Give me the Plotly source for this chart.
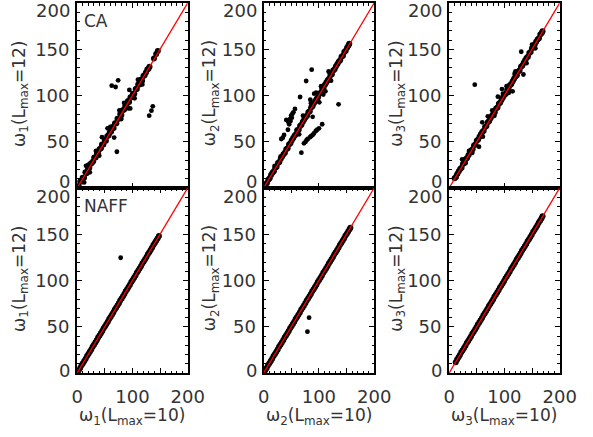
import plotly.graph_objects as go

# Frequencies (L_max=10, L_max=12) for the three components, CA and NAFF methods.
# Each entry is an (omega at L_max=10, omega at L_max=12) pair.
# *_BAND: the dense run of orbits lying on the 1:1 relation; *_SCATTER: the rest.

CA_W1_BAND = [
    (1, 2), (3, 1.5), (5.5, 7), (8, 7), (10, 11), (12.5, 11), (15, 17), (17, 16), (19.5, 20), (22, 22),
    (24, 26), (26.5, 27), (29, 29), (31, 33), (33.5, 33), (36, 37), (38, 37), (40.5, 42), (43, 43), (45, 47),
    (47.5, 47), (50, 52), (52, 51), (54.5, 56), (57, 57), (59, 60), (61.5, 61), (64, 66), (66, 65), (68.5, 70),
    (71, 70), (73, 75), (75.5, 75), (78, 80), (80, 79), (82.5, 84), (85, 85), (87, 88), (89.5, 88), (92, 94),
    (94, 93), (96.5, 98), (99, 98), (101, 102), (103.5, 102), (106, 107), (108, 107), (110.5, 112), (113, 112),
    (115, 117), (117.5, 116), (120, 121), (122, 122), (124.5, 125), (127, 128), (129, 129), (131, 131),
    (139, 140), (143, 145), (146, 148),
]
CA_W1_SCATTER = [
    (12.7, 6), (16, 24), (23, 17), (20, 25), (34, 40), (40, 35), (45, 55), (55, 64.5), (60, 66), (67, 54.5),
    (76.5, 84), (80, 74.5), (85, 92), (92.7, 86), (94.5, 106), (96, 86), (104, 97), (110, 117), (118, 112),
    (62.6, 110.6), (69.6, 109.2), (74.2, 116.4), (71.9, 39.2), (136.9, 88.3), (134.4, 83.6), (130.4, 78.2),
]

CA_W2_BAND = [
    (1, 1), (3.5, 4), (6, 5.5), (8.5, 9), (11, 10.5), (13.5, 14), (16, 16.5), (18.5, 18), (21, 22), (23.5, 23),
    (26, 27), (28.5, 28), (31, 31.5), (33.5, 34), (36, 36.5), (38.5, 38), (41, 42), (43.5, 43), (46, 47),
    (48.5, 48.5), (51, 51.5), (53.5, 54), (56, 56.5), (58.5, 58), (61, 62), (63.5, 63), (66, 67), (68.5, 68.5),
    (71, 71.5), (73.5, 74), (76, 76.5), (78.5, 78), (81, 82), (83.5, 83), (86, 87), (88.5, 88.5), (91, 91.5),
    (93.5, 94), (96, 96.5), (98.5, 98), (101, 102), (103.5, 103), (106, 107), (108.5, 108.5), (111, 111.5),
    (113.5, 114), (116, 116.5), (118.5, 118), (121, 122), (123.5, 123), (126, 127), (128.5, 128.5),
    (131, 131.5), (133.5, 134), (136, 136.5), (138.5, 138), (141, 142), (143.5, 143), (146, 147),
    (148.5, 148.5), (151, 151.5), (153.5, 154), (155, 156),
]
CA_W2_SCATTER = [
    (30.6, 33.8), (91.5, 102), (117.6, 126), (111.8, 104.5), (71.3, 78.2), (64.3, 58), (88.7, 77),
    (100.8, 92.6), (84.5, 95.5), (85.7, 91.6), (95, 103), (104, 110), (108, 101), (120, 124), (122, 116),
    (60, 63), (20, 24),
    (32, 53), (34.8, 54.4), (37, 57.3), (41.1, 73.5), (45.2, 71), (48.1, 74.6), (49.8, 78.2), (52.2, 80.3),
    (53.9, 81.8), (46.3, 68.9), (48.7, 72.4), (51, 76), (56.7, 85.4), (44, 63), (66, 98.4),
    (73, 48.3), (76, 50), (78, 52), (80, 53), (84, 55), (86, 56), (88.7, 57.3), (91, 59), (94.4, 61.6),
    (97, 63), (100.2, 64.5), (106, 68.9),
    (87, 127.9), (77, 115.7), (68.3, 38.2), (135.6, 90.5),
]

CA_W3_BAND = [
    (10, 10.5), (12.5, 12), (15, 15.5), (17.5, 18), (20, 20.5), (22.5, 22), (25, 26), (27.5, 27), (30, 31),
    (32.5, 32.5), (35, 35.5), (37.5, 38), (40, 40.5), (42.5, 42), (45, 46), (47.5, 47), (50, 51), (52.5, 52.5),
    (55, 55.5), (57.5, 58), (60, 60.5), (62.5, 62), (65, 66), (67.5, 67), (70, 71), (72.5, 72.5), (75, 75.5),
    (77.5, 78), (80, 80.5), (82.5, 82), (85, 86), (87.5, 87), (90, 91), (92.5, 92.5), (95, 95.5), (97.5, 98),
    (100, 100.5), (102.5, 102), (105, 106), (107.5, 107), (110, 111), (112.5, 112.5), (115, 115.5),
    (117.5, 118), (120, 120.5), (122.5, 122), (125, 126), (127.5, 127), (130, 131), (132.5, 132.5),
    (135, 135.5), (137.5, 138), (140, 140.5), (142.5, 142), (145, 146), (147.5, 147), (150, 151),
    (152.5, 152.5), (155, 155.5), (157.5, 158), (160, 160.5), (162.5, 162), (165, 166), (167.5, 167.5),
    (169, 169.5),
]
CA_W3_SCATTER = [
    (12.8, 14), (23.5, 31), (30, 27), (36, 40), (42, 38), (54, 44.6), (61, 55.5), (60, 71), (70, 77.5),
    (78, 84), (82, 78), (88.2, 98.7), (95.6, 107), (97.4, 102), (104, 110), (108, 103), (114.8, 104.5),
    (118.5, 123.6), (120, 126), (140, 135), (150, 155), (156, 151),
    (46.4, 111.7), (130.5, 147.3), (134.4, 122.7),
]

NAFF_W1_BAND = [
    (0.5, 0.5), (3, 3), (5.5, 5.5), (8, 8.5), (10.5, 10.5), (13, 13), (15.5, 15.5), (18, 18.5), (20.5, 20.5),
    (23, 23), (25.5, 25.5), (28, 28.5), (30.5, 30.5), (33, 33), (35.5, 35.5), (38, 38.5), (40.5, 40.5),
    (43, 43), (45.5, 45.5), (48, 48.5), (50.5, 50.5), (53, 53), (55.5, 55.5), (58, 58.5), (60.5, 60.5),
    (63, 63), (65.5, 65.5), (68, 68.5), (70.5, 70.5), (73, 73), (75.5, 75.5), (78, 78.5), (80.5, 80.5),
    (83, 83), (85.5, 85.5), (88, 88.5), (90.5, 90.5), (93, 93), (95.5, 95.5), (98, 98.5), (100.5, 100.5),
    (103, 103), (105.5, 105.5), (108, 108.5), (110.5, 110.5), (113, 113), (115.5, 115.5), (118, 118.5),
    (120.5, 120.5), (123, 123), (125.5, 125.5), (128, 128.5), (130.5, 130.5), (133, 133), (135.5, 135.5),
    (138, 138.5), (140.5, 140.5), (143, 143), (145.5, 145.5), (148, 148),
]
NAFF_W1_SCATTER = [(78.8, 124.6)]

NAFF_W2_BAND = [
    (0.5, 0.5), (3, 3), (5.5, 5.5), (8, 8.5), (10.5, 10.5), (13, 13), (15.5, 15.5), (18, 18.5), (20.5, 20.5),
    (23, 23), (25.5, 25.5), (28, 28.5), (30.5, 30.5), (33, 33), (35.5, 35.5), (38, 38.5), (40.5, 40.5),
    (43, 43), (45.5, 45.5), (48, 48.5), (50.5, 50.5), (53, 53), (55.5, 55.5), (58, 58.5), (60.5, 60.5),
    (63, 63), (65.5, 65.5), (68, 68.5), (70.5, 70.5), (73, 73), (75.5, 75.5), (78, 78.5), (80.5, 80.5),
    (83, 83), (85.5, 85.5), (88, 88.5), (90.5, 90.5), (93, 93), (95.5, 95.5), (98, 98.5), (100.5, 100.5),
    (103, 103), (105.5, 105.5), (108, 108.5), (110.5, 110.5), (113, 113), (115.5, 115.5), (118, 118.5),
    (120.5, 120.5), (123, 123), (125.5, 125.5), (128, 128.5), (130.5, 130.5), (133, 133), (135.5, 135.5),
    (138, 138.5), (140.5, 140.5), (143, 143), (145.5, 145.5), (148, 148.5), (150.5, 150.5), (153, 153),
    (155.5, 155.5), (157, 157),
]
NAFF_W2_SCATTER = [(82.3, 59.8), (79.3, 44.7)]

NAFF_W3_BAND = [
    (12, 11.5), (14.5, 14.5), (17, 17), (19.5, 19.5), (22, 22.5), (24.5, 24.5), (27, 27), (29.5, 29.5),
    (32, 32.5), (34.5, 34.5), (37, 37), (39.5, 39.5), (42, 42.5), (44.5, 44.5), (47, 47), (49.5, 49.5),
    (52, 52.5), (54.5, 54.5), (57, 57), (59.5, 59.5), (62, 62.5), (64.5, 64.5), (67, 67), (69.5, 69.5),
    (72, 72.5), (74.5, 74.5), (77, 77), (79.5, 79.5), (82, 82.5), (84.5, 84.5), (87, 87), (89.5, 89.5),
    (92, 92.5), (94.5, 94.5), (97, 97), (99.5, 99.5), (102, 102.5), (104.5, 104.5), (107, 107),
    (109.5, 109.5), (112, 112.5), (114.5, 114.5), (117, 117), (119.5, 119.5), (122, 122.5), (124.5, 124.5),
    (127, 127), (129.5, 129.5), (132, 132.5), (134.5, 134.5), (137, 137), (139.5, 139.5), (142, 142.5),
    (144.5, 144.5), (147, 147), (149.5, 149.5), (152, 152.5), (154.5, 154.5), (157, 157), (159.5, 159.5),
    (162, 162.5), (164.5, 164.5), (167, 167), (169, 169.5),
]
NAFF_W3_SCATTER = []

PANELS = [
    (CA_W1_BAND, CA_W1_SCATTER), (CA_W2_BAND, CA_W2_SCATTER), (CA_W3_BAND, CA_W3_SCATTER),
    (NAFF_W1_BAND, NAFF_W1_SCATTER), (NAFF_W2_BAND, NAFF_W2_SCATTER), (NAFF_W3_BAND, NAFF_W3_SCATTER),
]
COMPONENTS = ["1", "2", "3", "1", "2", "3"]
METHOD_LABELS = {0: "CA", 3: "NAFF"}

AX_RANGE = [0, 200]
TICK_VALS = [0, 50, 100, 150, 200]
X_TICK_TEXT = ["0", "", "100", "", "200"]
Y_TICK_TEXT = ["", "50", "100", "150", ""]
ONE_TO_ONE = [0, 200]

W, H = 593, 437
col_px = [(74, 189), (268, 383), (461, 576)]
row_px = [(3, 188), (188, 373)]
title_gap = [59, 55, 54]

FONT = "DejaVu Sans"
TXT = "#333333"
tick_font = dict(family=FONT, size=18, color=TXT)

fig = go.Figure()
layout = dict(
    width=W, height=H, margin=dict(l=0, r=0, t=0, b=0),
    paper_bgcolor="white", plot_bgcolor="white", showlegend=False,
)
annotations = []

for i, (band, scatter) in enumerate(PANELS):
    r, c = divmod(i, 3)
    n = i + 1
    xa = "x" if n == 1 else f"x{n}"
    ya = "y" if n == 1 else f"y{n}"
    fig.add_trace(go.Scatter(
        x=[p[0] for p in band], y=[p[1] for p in band], mode="markers", xaxis=xa, yaxis=ya,
        marker=dict(color="black", size=6, line=dict(width=0)),
    ))
    fig.add_trace(go.Scatter(
        x=[p[0] for p in scatter], y=[p[1] for p in scatter], mode="markers", xaxis=xa, yaxis=ya,
        marker=dict(color="black", size=4.8, line=dict(width=0)),
    ))
    fig.add_trace(go.Scatter(
        x=ONE_TO_ONE, y=ONE_TO_ONE, mode="lines", xaxis=xa, yaxis=ya,
        line=dict(color="red", width=1.3),
    ))

    x0, x1 = col_px[c]
    y0, y1 = row_px[r]
    common = dict(
        range=AX_RANGE, showline=True, linewidth=2, linecolor="black",
        mirror="allticks", ticks="inside", ticklen=5, tickwidth=1, tickcolor="black",
        tickmode="array", tickvals=TICK_VALS, showgrid=False, zeroline=False,
        tickfont=tick_font, fixedrange=True,
        minor=dict(tickmode="linear", tick0=0, dtick=10, ticks="inside",
                   ticklen=2.5, tickwidth=1, tickcolor="black", showgrid=False),
    )
    layout["xaxis" if n == 1 else f"xaxis{n}"] = dict(
        common, domain=[x0 / W, x1 / W], anchor=ya,
        ticktext=X_TICK_TEXT, showticklabels=(r == 1), ticklabelstandoff=6,
    )
    layout["yaxis" if n == 1 else f"yaxis{n}"] = dict(
        common, domain=[1 - y1 / H, 1 - y0 / H], anchor=xa,
        ticktext=Y_TICK_TEXT, ticklabelstandoff=2,
    )

    # end labels of the y axis, nudged inside the panel height
    for val, shift in ((0, 7 if r == 0 else 3), (200, -8 if r == 0 else -9)):
        annotations.append(dict(
            text=str(val), xref=f"{xa} domain", yref=ya, x=0, y=val,
            xanchor="right", yanchor="middle", xshift=-5, yshift=shift,
            showarrow=False, font=tick_font,
        ))

    comp = COMPONENTS[i]
    # y-axis title
    annotations.append(dict(
        text=f"ω<sub>{comp}</sub>(L<sub>max</sub>=12)", textangle=-90,
        xref="paper", yref="paper", x=(x0 - title_gap[c]) / W, y=1 - ((y0 + y1) / 2 - 2) / H,
        xanchor="center", yanchor="middle", showarrow=False,
        font=dict(family=FONT, size=17, color=TXT),
    ))
    # x-axis title on the bottom row
    if r == 1:
        annotations.append(dict(
            text=f"ω<sub>{comp}</sub>(L<sub>max</sub>=10)",
            xref="paper", yref="paper", x=(x0 + x1) / 2 / W, y=1 - 416 / H,
            xanchor="center", yanchor="middle", showarrow=False,
            font=dict(family=FONT, size=17, color=TXT),
        ))
    if i in METHOD_LABELS:
        annotations.append(dict(
            text=METHOD_LABELS[i], xref=f"{xa} domain", yref=f"{ya} domain",
            x=0.045, y=0.905, xanchor="left", yanchor="middle", showarrow=False,
            font=dict(family=FONT, size=17, color=TXT),
        ))

layout["annotations"] = annotations
fig.update_layout(**layout)
fig.write_html("out.html")
